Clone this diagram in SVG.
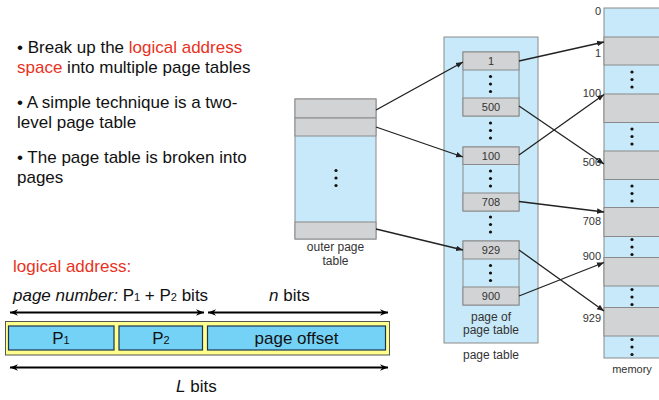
<svg xmlns="http://www.w3.org/2000/svg" width="659" height="400" viewBox="0 0 659 400">
<style>
text{font-family:"Liberation Sans",Arial,sans-serif;fill:#111}
.b{font-size:17px}
.red{fill:#e8321e}
.s{font-size:11px;fill:#333}
.m{font-size:12px;fill:#333}
.lb{fill:#c8e9f9;stroke:#8a8a8a;stroke-width:1}
.gr{fill:#d2d3d5;stroke:#8a8a8a;stroke-width:1}
.cn{stroke:#222;stroke-width:1.3;fill:none;marker-end:url(#ah)}
.dim{stroke:#000;stroke-width:1.8;fill:none;marker-end:url(#dh);marker-start:url(#dt)}
.fld{fill:#74d2f7;stroke:#1e3350;stroke-width:1.2}
.mid{text-anchor:middle}
.end{text-anchor:end}
</style>
<defs>
<marker id="ah" viewBox="0 0 10 10" refX="10" refY="5" markerWidth="7" markerHeight="7" markerUnits="userSpaceOnUse" orient="auto"><path d="M0,1 L10,5 L0,9 Z" fill="#222"/></marker>
<marker id="dh" viewBox="0 0 10 10" refX="10" refY="5" markerWidth="8" markerHeight="8" markerUnits="userSpaceOnUse" orient="auto"><path d="M0,1 L10,5 L0,9 L3,5 Z" fill="#000"/></marker>
<marker id="dt" viewBox="0 0 10 10" refX="0" refY="5" markerWidth="8" markerHeight="8" markerUnits="userSpaceOnUse" orient="auto"><path d="M10,1 L0,5 L10,9 L7,5 Z" fill="#000"/></marker>
<g id="dots"><circle cx="0" cy="-7.5" r="1.6" fill="#111"/><circle cx="0" cy="0" r="1.6" fill="#111"/><circle cx="0" cy="7.5" r="1.6" fill="#111"/></g>
</defs>

<g id="bullets">
<text class="b" x="17" y="53">• Break up the <tspan class="red">logical address</tspan></text>
<text class="b" x="17" y="73"><tspan class="red">space</tspan> into multiple page tables</text>
<text class="b" x="17" y="108">• A simple technique is a two-</text>
<text class="b" x="17" y="128">level page table</text>
<text class="b" x="17" y="163">• The page table is broken into</text>
<text class="b" x="17" y="183">pages</text>
</g>

<g id="outer-page-table">
<rect class="lb" x="295" y="99" width="81" height="140"/>
<rect class="gr" x="295" y="99" width="81" height="19"/>
<rect class="gr" x="295" y="118" width="81" height="18"/>
<rect class="gr" x="295" y="222" width="81" height="17"/>
<use href="#dots" x="336" y="178"/>
<text class="m mid" x="335.5" y="251">outer page</text>
<text class="m mid" x="335.5" y="265">table</text>
</g>

<g id="page-table">
<rect class="lb" x="444" y="37" width="94" height="306"/>
<rect class="lb" x="463" y="52" width="56" height="64"/>
<rect class="gr" x="463" y="52" width="56" height="18"/>
<rect class="gr" x="463" y="98" width="56" height="18"/>
<rect class="lb" x="463" y="147" width="56" height="64"/>
<rect class="gr" x="463" y="147" width="56" height="17.5"/>
<rect class="gr" x="463" y="193" width="56" height="18"/>
<rect class="lb" x="463" y="241" width="56" height="64"/>
<rect class="gr" x="463" y="241" width="56" height="18"/>
<rect class="gr" x="463" y="287" width="56" height="18"/>
<text class="s mid" x="491" y="65">1</text>
<text class="s mid" x="491" y="111">500</text>
<text class="s mid" x="491" y="160">100</text>
<text class="s mid" x="491" y="206">708</text>
<text class="s mid" x="491" y="254">929</text>
<text class="s mid" x="491" y="300">900</text>
<use href="#dots" x="490.5" y="84"/>
<use href="#dots" x="490.5" y="130.5"/>
<use href="#dots" x="490.5" y="178.5"/>
<use href="#dots" x="490.5" y="224.5"/>
<use href="#dots" x="490.5" y="273"/>
<text class="m mid" x="491" y="321">page of</text>
<text class="m mid" x="491" y="334">page table</text>
<text class="m mid" x="491" y="359">page table</text>
</g>

<g id="memory">
<rect class="lb" x="604" y="8" width="70" height="350"/>
<rect class="gr" x="604" y="37" width="70" height="28"/>
<rect class="gr" x="604" y="94" width="70" height="28.5"/>
<rect class="gr" x="604" y="151" width="70" height="28.5"/>
<rect class="gr" x="604" y="207.5" width="70" height="29"/>
<rect class="gr" x="604" y="257.5" width="70" height="28.5"/>
<rect class="gr" x="604" y="307.5" width="70" height="28.5"/>
<use href="#dots" x="632" y="79.5"/>
<use href="#dots" x="632" y="136.5"/>
<use href="#dots" x="632" y="193.5"/>
<use href="#dots" x="632" y="247"/>
<use href="#dots" x="632" y="297"/>
<use href="#dots" x="632" y="347"/>
<text class="s end" x="601" y="15">0</text>
<text class="s end" x="601" y="57">1</text>
<text class="s end" x="601" y="97">100</text>
<text class="s end" x="601" y="166">500</text>
<text class="s end" x="601" y="225">708</text>
<text class="s end" x="601" y="260">900</text>
<text class="s end" x="601" y="322">929</text>
<text class="s mid" x="632" y="373">memory</text>
</g>

<g id="connectors">
<line class="cn" x1="376" y1="110" x2="463" y2="62"/>
<line class="cn" x1="376" y1="127" x2="463" y2="157"/>
<line class="cn" x1="376" y1="229" x2="463" y2="250"/>
<line class="cn" x1="519" y1="61" x2="604" y2="42"/>
<line class="cn" x1="519" y1="106" x2="604" y2="164"/>
<line class="cn" x1="519" y1="155" x2="604" y2="94.5"/>
<line class="cn" x1="519" y1="201.5" x2="604" y2="212"/>
<line class="cn" x1="519" y1="250" x2="604" y2="311"/>
<line class="cn" x1="519" y1="296" x2="604" y2="262.5"/>
</g>

<g id="logical-address">
<text class="b red" x="13" y="272">logical address:</text>
<text class="b" x="13" y="301"><tspan font-style="italic">page number:</tspan> P<tspan font-size="11">1</tspan> + P<tspan font-size="11">2</tspan> bits</text>
<text class="b" x="269" y="301"><tspan font-style="italic">n</tspan> bits</text>
<line class="dim" x1="10" y1="312.5" x2="204" y2="312.5"/>
<line class="dim" x1="208" y1="312.5" x2="388" y2="312.5"/>
<rect x="5.5" y="321.5" width="384" height="33.5" fill="#ffff8c" stroke="#555" stroke-width="1"/>
<rect class="fld" x="8.5" y="326" width="105.5" height="24"/>
<rect class="fld" x="119" y="326" width="83.5" height="24"/>
<rect class="fld" x="207.5" y="326" width="178" height="24"/>
<text class="b mid" x="61" y="344">P<tspan font-size="11">1</tspan></text>
<text class="b mid" x="161" y="344">P<tspan font-size="11">2</tspan></text>
<text class="b mid" x="296.5" y="344">page offset</text>
<line class="dim" x1="10" y1="367.5" x2="388" y2="367.5"/>
<text class="b" x="176" y="392"><tspan font-style="italic">L</tspan> bits</text>
</g>
</svg>
